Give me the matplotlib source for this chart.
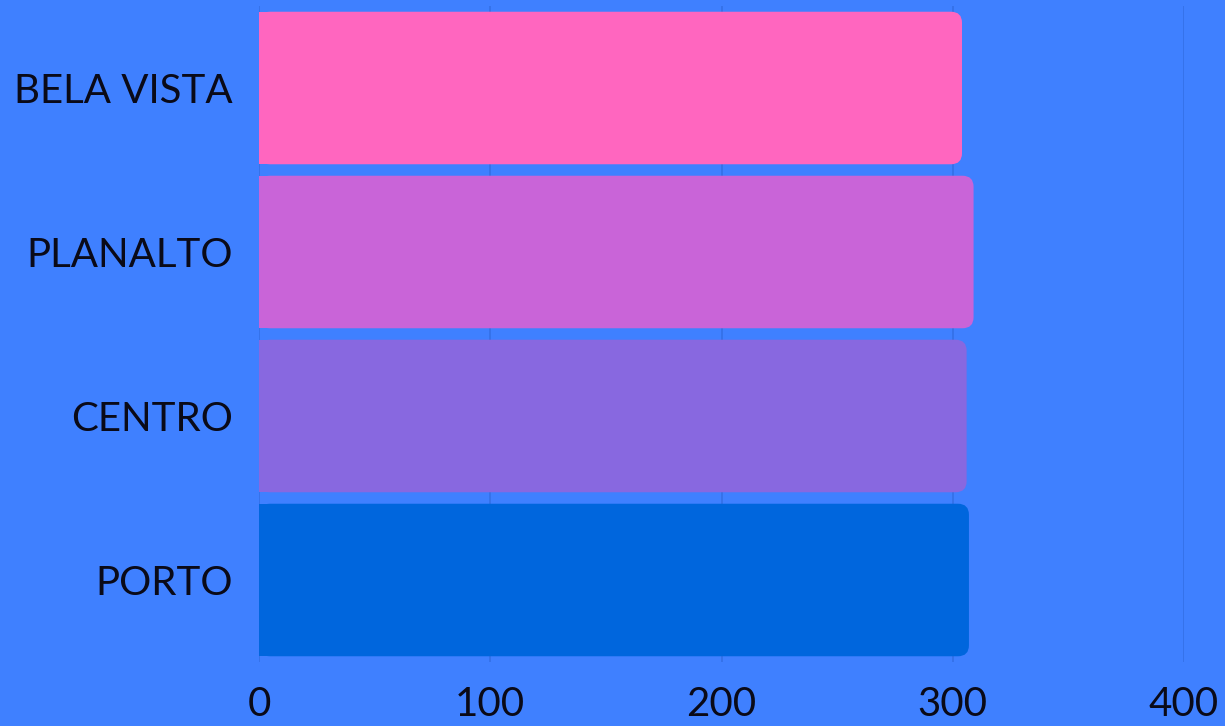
import matplotlib
matplotlib.use("Agg")
import matplotlib.pyplot as plt
from matplotlib.patches import FancyBboxPatch, Rectangle

plt.rcParams['font.family'] = ['Lato', 'DejaVu Sans']

bairros = ['BELA VISTA', 'PLANALTO', 'CENTRO', 'PORTO']
valores = [304, 309, 306, 307]
cores = ['#FF66BF', '#C964D8', '#8868E0', '#0066DD']
fundo = '#3F80FF'

fig = plt.figure(figsize=(12.25, 7.26), dpi=100)
fig.patch.set_facecolor(fundo)
ax = fig.add_axes([259/1225, 1 - 662/726, (1184 - 259)/1225, (662 - 6)/726])
ax.set_facecolor(fundo)

ax.set_xlim(0, 400)
ax.set_ylim(len(bairros) - 0.5, -0.5)

h = 0.93
# raio do canto em pixels convertido pra unidades de dados
px_x = 400 / 925.0
px_y = 4 / 656.0
r = 11 * px_x
asp = px_y / px_x

for i, (v, c) in enumerate(zip(valores, cores)):
    y0 = i - h / 2
    p = FancyBboxPatch((0, y0), v, h,
                       boxstyle="round,pad=0,rounding_size=%f" % r,
                       mutation_aspect=asp, facecolor=c, edgecolor='none', zorder=3)
    ax.add_patch(p)
    ax.add_patch(Rectangle((0, y0), v - 2 * r, h, facecolor=c, edgecolor='none', zorder=3))

ax.set_yticks(range(len(bairros)))
ax.set_yticklabels(bairros)
ax.set_xticks([0, 100, 200, 300, 400])
ax.grid(axis='x', color='#3470E6', linewidth=1.2, zorder=0)
ax.set_axisbelow(True)
for s in ax.spines.values():
    s.set_visible(False)
ax.tick_params(axis='both', length=0, labelsize=29, labelcolor='#0A0A18')
ax.tick_params(axis='y', pad=19)
ax.tick_params(axis='x', pad=17)

fig.savefig('out.png', dpi=100, facecolor=fundo)
